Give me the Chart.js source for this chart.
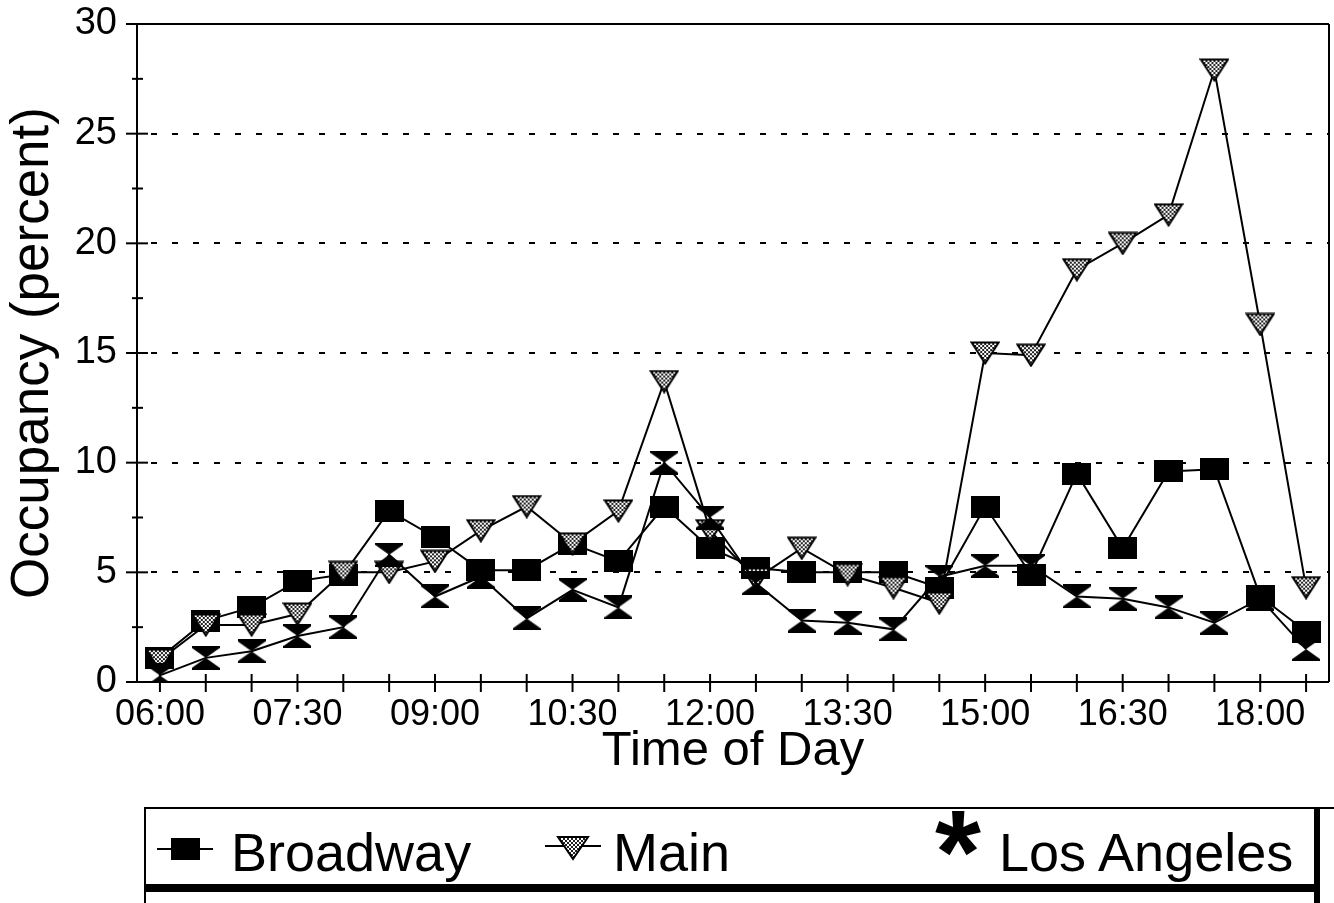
<!DOCTYPE html>
<html>
<head>
<meta charset="utf-8">
<script src="https://cdn.jsdelivr.net/npm/chart.js@4.4.1/dist/chart.umd.min.js"></script>
<style>
  html, body { margin: 0; padding: 0; background: #fff; }
  #wrap { position: relative; width: 1334px; height: 903px; overflow: hidden; font-family: 'Liberation Sans', Arial, Helvetica, sans-serif; }
  #chart { position: absolute; left: 0; top: 0; }
  .ln { position: absolute; background: #000; }
  .lg { position: absolute; font-size: 54px; line-height: 54px; color: #000; white-space: nowrap; }
  .mk { position: absolute; }
</style>
</head>
<body>
<div id="wrap">
  <canvas id="chart" width="1334" height="800"></canvas>

  <!-- legend box -->
  <div class="ln" style="left:144px; top:807px; width:1190px; height:2px;"></div>
  <div class="ln" style="left:144px; top:807px; width:2px; height:96px;"></div>
  <div class="ln" style="left:1314px; top:807px; width:6px; height:96px;"></div>
  <div class="ln" style="left:144px; top:884px; width:1176px; height:8px;"></div>

  <svg class="mk" style="left:155px; top:836px;" width="60" height="26">
    <line x1="2" y1="13" x2="58" y2="13" stroke="#000" stroke-width="2"/>
    <rect x="16" y="2" width="29" height="22" fill="#000"/>
  </svg>
  <div class="lg" style="left:231px; top:825px;">Broadway</div>

  <svg class="mk" style="left:543px; top:834px;" width="60" height="28">
    <defs>
      <pattern id="dots" width="4" height="4" patternUnits="userSpaceOnUse">
        <rect width="4" height="4" fill="#fff"/>
        <rect width="2" height="2" fill="#222"/>
        <rect x="2" y="2" width="2" height="2" fill="#222"/>
      </pattern>
    </defs>
    <line x1="2" y1="12" x2="58" y2="12" stroke="#000" stroke-width="2"/>
    <polygon points="15,3 45,3 30,25" fill="url(#dots)" stroke="#000" stroke-width="2"/>
  </svg>
  <div class="lg" style="left:613px; top:825px;">Main</div>

  <div class="lg" style="left:935px; top:793px; font-size:118px; line-height:118px; font-weight:bold;">*</div>
  <div class="lg" style="left:999px; top:825px;">Los Angeles</div>
</div>

<script>
// half-hour sample times
const times = ['06:00', '06:30', '07:00', '07:30', '08:00', '08:30', '09:00', '09:30', '10:00',
               '10:30', '11:00', '11:30', '12:00', '12:30', '13:00', '13:30', '14:00', '14:30',
               '15:00', '15:30', '16:00', '16:30', '17:00', '17:30', '18:00', '18:30'];

// occupancy (percent)
const broadway = [1.1, 2.8, 3.4, 4.6, 4.9, 7.8, 6.6, 5.1, 5.1, 6.3, 5.5, 8.0, 6.1,
                  5.2, 5.0, 5.0, 5.0, 4.3, 8.0, 4.9, 9.5, 6.1, 9.6, 9.7, 3.9, 2.3];
const mainSt   = [1.0, 2.6, 2.6, 3.1, 5.0, 5.0, 5.5, 6.9, 8.0, 6.3, 7.8, 13.7, 6.9,
                  4.7, 6.1, 4.9, 4.3, 3.6, 15.0, 14.9, 18.8, 20.0, 21.3, 27.9, 16.3, 4.3];
const losAngeles = [0.3, 1.1, 1.4, 2.1, 2.5, 5.8, 3.9, 4.8, 2.9, 4.2, 3.4, 10.0, 7.5,
                    4.5, 2.8, 2.7, 2.4, 4.8, 5.3, 5.3, 3.9, 3.8, 3.4, 2.7, 3.8, 1.5];

const yTicks = [0, 5, 10, 15, 20, 25, 30];
const yMinorTicks = [2.5, 7.5, 12.5, 17.5, 22.5, 27.5];

const FONT = "'Liberation Sans', Arial, Helvetica, sans-serif";

function squareMarker() {
    const c = document.createElement('canvas');
    c.width = 29; c.height = 22;
    const g = c.getContext('2d');
    g.fillStyle = '#000';
    g.fillRect(0, 0, 29, 22);
    return c;
}

function triangleMarker() {
    const p = document.createElement('canvas');
    p.width = 4; p.height = 4;
    const pg = p.getContext('2d');
    pg.fillStyle = '#fff'; pg.fillRect(0, 0, 4, 4);
    pg.fillStyle = '#222'; pg.fillRect(0, 0, 2, 2); pg.fillRect(2, 2, 2, 2);
    const c = document.createElement('canvas');
    c.width = 30; c.height = 24;
    const g = c.getContext('2d');
    g.beginPath();
    g.moveTo(1.5, 1.5); g.lineTo(28.5, 1.5); g.lineTo(15, 22.5); g.closePath();
    g.fillStyle = g.createPattern(p, 'repeat');
    g.fill();
    g.lineWidth = 2; g.strokeStyle = '#000'; g.lineJoin = 'miter';
    g.stroke();
    return c;
}

function hourglassMarker() {
    const c = document.createElement('canvas');
    c.width = 28; c.height = 24;
    const g = c.getContext('2d');
    g.fillStyle = '#000';
    g.beginPath();
    g.moveTo(0, 0); g.lineTo(28, 0); g.lineTo(28, 2); g.lineTo(14, 12); g.lineTo(28, 22); g.lineTo(28, 24);
    g.lineTo(0, 24); g.lineTo(0, 22); g.lineTo(14, 12); g.lineTo(0, 2); g.closePath();
    g.fill();
    return c;
}

// dashed grid, crossing ticks and the frame
const framePlugin = {
    id: 'framePlugin',
    beforeDatasetsDraw(chart) {
        const { ctx, chartArea: a, scales: { x, y } } = chart;
        ctx.save();
        ctx.strokeStyle = '#000';
        ctx.lineWidth = 2;
        const line = (x1, y1, x2, y2) => { ctx.beginPath(); ctx.moveTo(x1, y1); ctx.lineTo(x2, y2); ctx.stroke(); };

        ctx.setLineDash([6, 15]);
        yTicks.forEach(v => {
            if (v === 0 || v === 30) return;
            const py = Math.round(y.getPixelForValue(v));
            line(a.left + 14, py, a.right, py);
        });
        ctx.setLineDash([]);

        // frame
        line(a.left, y.getPixelForValue(30), a.left, y.getPixelForValue(0));
        line(a.left, y.getPixelForValue(0), a.right, y.getPixelForValue(0));
        line(a.right, y.getPixelForValue(30), a.right, y.getPixelForValue(0));

        yTicks.forEach(v => {
            const py = y.getPixelForValue(v);
            line(a.left - 11, py, v === 30 ? a.right : a.left + 11, py);
        });
        yMinorTicks.forEach(v => {
            const py = y.getPixelForValue(v);
            line(a.left - 5, py, a.left + 6, py);
        });
        times.forEach((t, i) => {
            const px = x.getPixelForValue(i);
            line(px, a.bottom - 8, px, a.bottom + 10);
        });
        ctx.restore();
    }
};

const markerSquare = squareMarker();
const markerTriangle = triangleMarker();
const markerHourglass = hourglassMarker();

const ctx = document.getElementById('chart').getContext('2d');
new Chart(ctx, {
    type: 'line',
    data: {
        labels: times,
        datasets: [
            { label: 'Broadway', data: broadway, order: 3, pointStyle: markerSquare },
            { label: 'Main', data: mainSt, order: 2, pointStyle: markerTriangle },
            { label: 'Los Angeles', data: losAngeles, order: 1, pointStyle: markerHourglass }
        ].map(ds => Object.assign(ds, {
            borderColor: '#000', borderWidth: 2, tension: 0, fill: false,
            pointRadius: 12, pointHoverRadius: 12
        }))
    },
    options: {
        responsive: false,
        animation: false,
        events: [],
        layout: { autoPadding: false, padding: { top: 24, right: 5, left: 0, bottom: 0 } },
        plugins: { legend: { display: false }, tooltip: { enabled: false } },
        scales: {
            x: {
                type: 'category',
                offset: true,
                grid: { display: false, drawTicks: false },
                border: { display: false },
                afterFit: s => { s.height = 118; s.paddingLeft = 0; s.paddingRight = 0; },
                ticks: {
                    autoSkip: false, maxRotation: 0, padding: 11, color: '#000',
                    font: { family: FONT, size: 36 },
                    callback: (v, i) => (i % 3 === 0 ? times[i] : '')
                },
                title: {
                    display: true, text: 'Time of Day', color: '#000',
                    font: { family: FONT, size: 49 }, padding: { top: 0, bottom: 19 }
                }
            },
            y: {
                min: 0, max: 30,
                grid: { display: false, drawTicks: false },
                border: { display: false },
                afterFit: s => { s.width = 137; s.paddingTop = 0; s.paddingBottom = 0; },
                ticks: {
                    stepSize: 5, padding: 20, color: '#000',
                    font: { family: FONT, size: 38 }
                },
                title: {
                    display: true, text: 'Occupancy (percent)', color: '#000',
                    font: { family: FONT, size: 53 }, padding: { top: 2, bottom: 0 }
                }
            }
        }
    },
    plugins: [framePlugin]
});
</script>
</body>
</html>
